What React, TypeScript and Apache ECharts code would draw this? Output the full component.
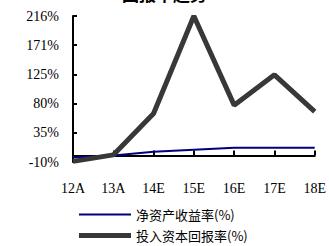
import React, { useEffect, useRef } from "react";
import * as echarts from "echarts";

const categories = ["12A", "13A", "14E", "15E", "16E", "17E", "18E"];
const roe = [-3, 0, 6, 9, 12, 12, 12];
const roic = [-9, 1, 65, 216, 78, 125, 68];
const yTickValues = [-10, 35.2, 80.4, 125.6, 170.8, 216];
const yTickLabels = ["-10%", "35%", "80%", "125%", "171%", "216%"];
const seriesNames = ["净资产收益率(%)", "投入资本回报率(%)"];
const titleText = "回报率趋势";

export default function App() {
  const ref = useRef<HTMLDivElement>(null);
  useEffect(() => {
    const chart = echarts.init(ref.current!, undefined, { renderer: "svg" });
    const serif = "'Liberation Serif', 'DejaVu Serif', serif";
    const cjk = "'Noto Sans CJK SC', sans-serif";
    chart.setOption({
      animation: false,
      backgroundColor: "#ffffff",
      graphic: [
        {
          type: "text",
          left: "center",
          top: -15,
          style: { text: titleText, font: `bold 17px ${cjk}`, fill: "#000" },
        },
      ],
      grid: { left: 73, right: 13, top: 16, bottom: 84 },
      legend: [
        {
          data: [seriesNames[0]],
          orient: "vertical",
          left: 74,
          top: 203,
          icon: "rect",
          itemWidth: 52,
          itemHeight: 2,
          textStyle: { fontFamily: cjk, fontSize: 13, color: "#000" },
        },
        {
          data: [seriesNames[1]],
          orient: "vertical",
          left: 74,
          top: 224,
          icon: "rect",
          itemWidth: 52,
          itemHeight: 5,
          textStyle: { fontFamily: cjk, fontSize: 13, color: "#000" },
        },
      ],
      xAxis: {
        type: "category",
        data: categories,
        boundaryGap: false,
        axisLine: { onZero: true, lineStyle: { color: "#000", width: 2 } },
        axisTick: { inside: true, length: 5, lineStyle: { color: "#000", width: 2 } },
        axisLabel: { margin: 19, fontFamily: serif, fontSize: 14, color: "#000" },
        splitLine: { show: false },
      },
      yAxis: {
        type: "value",
        min: -10,
        max: 216,
        axisLine: { show: true, onZero: false, lineStyle: { color: "#000", width: 2 } },
        axisTick: {
          show: true,
          inside: true,
          length: 4,
          customValues: yTickValues,
          lineStyle: { color: "#000", width: 2 },
        },
        axisLabel: {
          customValues: yTickValues,
          margin: 14,
          fontFamily: serif,
          fontSize: 14,
          color: "#000",
          formatter: (v: number) => {
            let best = 0;
            yTickValues.forEach((t, i) => {
              if (Math.abs(t - v) < Math.abs(yTickValues[best] - v)) best = i;
            });
            return yTickLabels[best];
          },
        },
        splitLine: { show: false },
      },
      series: [
        {
          name: seriesNames[0],
          type: "line",
          data: roe,
          symbol: "none",
          color: "#00007f",
          lineStyle: { color: "#00007f", width: 2 },
          z: 3,
        },
        {
          name: seriesNames[1],
          type: "line",
          data: roic,
          symbol: "none",
          color: "#383838",
          lineStyle: { color: "#383838", width: 5 },
          z: 4,
        },
      ],
    });
    return () => chart.dispose();
  }, []);
  return <div ref={ref} style={{ width: 329, height: 246, position: "absolute", left: 0, top: 0 }} />;
}
